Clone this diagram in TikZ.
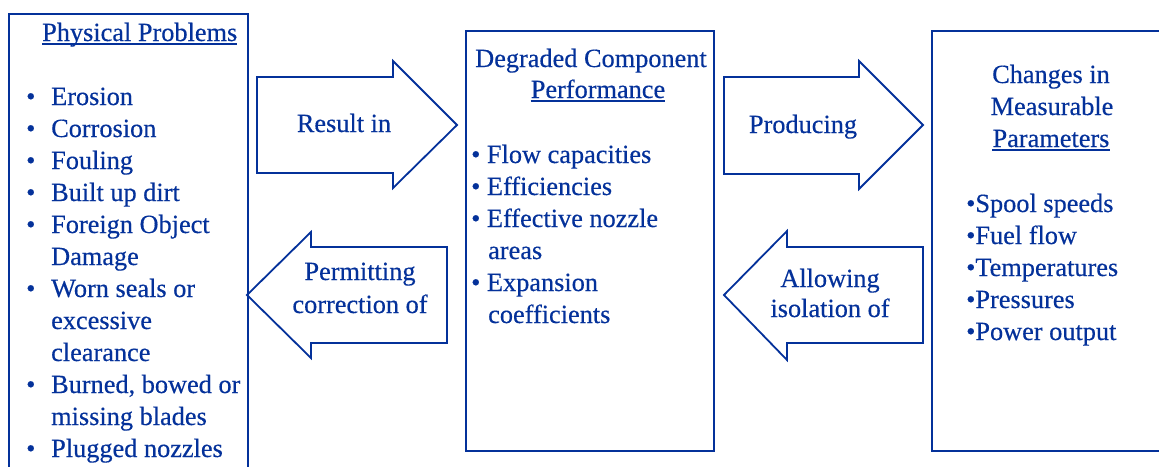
\documentclass[tikz,border=0pt]{standalone}
\usepackage{fontspec}
\setmainfont{Liberation Serif}[FakeBold=0.4]
\definecolor{dblue}{HTML}{04319A}
\begin{document}
\begin{tikzpicture}[x=1pt,y=-1pt,
  box/.style={draw=dblue,line width=2pt,rectangle,inner sep=0pt},
  blockarrow/.style={draw=dblue,line width=1.8pt,line join=miter},
  txt/.style={text=dblue,inner sep=0pt,anchor=base west,font=\fontsize{26.3}{32}\selectfont},
  ctxt/.style={text=dblue,inner sep=0pt,anchor=base,font=\fontsize{26.3}{32}\selectfont},
  uline/.style={draw=dblue,line width=1.2pt}]
\useasboundingbox (0,0) rectangle (1159,466);
\clip (0,0) rectangle (1159,466);
% boxes
\node[box,minimum width=239pt,minimum height=466pt] (left) at (128.5,247) {};
\node[box,minimum width=248pt,minimum height=420pt] (mid) at (590,241) {};
\node[box,minimum width=243pt,minimum height=420pt] (right) at (1053.5,241) {};
% block arrows
\draw[blockarrow] (257,77) -- (393,77) -- (393,61) -- (457,125) -- (393,188) -- (393,173) -- (257,173) -- cycle;
\draw[blockarrow] (247,295) -- (311,232) -- (311,247) -- (447,247) -- (447,343) -- (311,343) -- (311,358) -- cycle;
\draw[blockarrow] (724,77) -- (859,77) -- (859,61) -- (923,125) -- (859,189) -- (859,174) -- (724,174) -- cycle;
\draw[blockarrow] (724,295) -- (787,231) -- (787,247) -- (923,247) -- (923,343) -- (787,343) -- (787,360) -- cycle;
% arrow labels
\node[ctxt] (r1) at (344,132) {Result in};
\node[ctxt] (p1) at (360,280) {Permitting};
\node[ctxt] (p2) at (360,313) {correction of};
\node[ctxt] (pr) at (803,133) {Producing};
\node[ctxt] (a1) at (830,287) {Allowing};
\node[ctxt] (a2) at (830,317) {isolation of};
% left box
\node[txt] (lt) at (42,41) {Physical Problems};
\draw[uline] ([yshift=-3pt]lt.base west) -- ([yshift=-3pt]lt.base east);
\foreach \y/\t [count=\i] in {105/Erosion,137/Corrosion,169/Fouling,201/Built up dirt,233/Foreign Object,297/Worn seals or,393/{Burned, bowed or},457/Plugged nozzles}{
  \node[txt] (lb\i) at (26,\y) {•};
  \node[txt] (li\i) at (51,\y) {\t};
}
\node[txt] (lc1) at (51,265) {Damage};
\node[txt] (lc2) at (51,329) {excessive};
\node[txt] (lc3) at (51,361) {clearance};
\node[txt] (lc4) at (51,425) {missing blades};
% middle box
\node[ctxt] (mt1) at (591,67) {Degraded Component};
\node[ctxt] (mt2) at (598,98) {Performance};
\draw[uline] ([yshift=-3pt]mt2.base west) -- ([yshift=-3pt]mt2.base east);
\node[txt] (m1) at (471,163) {• Flow capacities};
\node[txt] (m2) at (471,195) {• Efficiencies};
\node[txt] (m3) at (471,227) {• Effective nozzle};
\node[txt] (m3b) at (488,259) {areas};
\node[txt] (m4) at (471,291) {• Expansion};
\node[txt] (m4b) at (488,323) {coefficients};
% right box
\node[ctxt] (rt1) at (1051,83) {Changes in};
\node[ctxt] (rt2) at (1052,115) {Measurable};
\node[ctxt] (rt3) at (1051,147) {Parameters};
\draw[uline] ([yshift=-3pt]rt3.base west) -- ([yshift=-3pt]rt3.base east);
\node[txt] (q1) at (966,212) {•Spool speeds};
\node[txt] (q2) at (966,244) {•Fuel flow};
\node[txt] (q3) at (966,276) {•Temperatures};
\node[txt] (q4) at (966,308) {•Pressures};
\node[txt] (q5) at (966,340) {•Power output};
\end{tikzpicture}
\end{document}
